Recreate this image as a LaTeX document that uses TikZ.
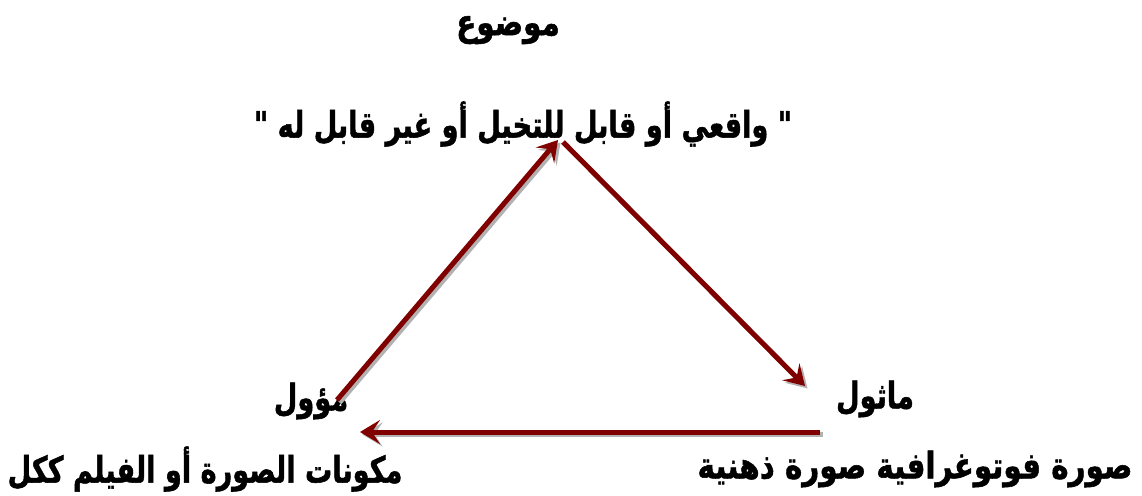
\documentclass[tikz,border=0pt]{standalone}
\usepackage{fontspec}
\usepackage{graphicx}
\usetikzlibrary{arrows.meta}
\TeXXeTstate=1
\newfontfamily\arabicfont[Script=Arabic, BoldFeatures={FakeBold=1.5}]{DejaVu Sans}
\definecolor{arrowred}{RGB}{128,0,0}
\newcommand{\artxt}[1]{\scalebox{0.97}[1.3]{\beginR #1\endR}}
\tikzset{
  lbl/.style={font=\arabicfont\bfseries\fontsize{28}{32}\selectfont, inner sep=0pt, anchor=center},
  conn/.style={line width=5pt, color=arrowred, -{Stealth[length=20pt,width=24pt,inset=8pt]}},
  shadowconn/.style={conn, color=black!30, transform canvas={shift={(2.5pt,-2.5pt)}}}
}
\begin{document}
\begin{tikzpicture}[x=1pt,y=-1pt]
\useasboundingbox[fill=white] (0,0) rectangle (1142,495);
\node[lbl] (topic) at (508,30) {\scalebox{1.05}[1.3]{\beginR موضوع\endR}};
\node[lbl] (real) at (523,124) {\artxt{" واقعي أو قابل للتخيل أو غير قابل له "}};
\node[lbl] (interp) at (311,401) {\artxt{مؤول}};
\node[lbl] (repr) at (875,399) {\artxt{ماثول}};
\node[lbl] (comps) at (205,469) {\artxt{مكونات الصورة أو الفيلم ككل}};
\node[lbl] (photo) at (915,469) {\scalebox{1.05}[1.3]{\beginR صورة فوتوغرافية صورة ذهنية\endR}};
\coordinate (a1) at (337,400);
\coordinate (a2) at (558,140);
\coordinate (b1) at (563,142);
\coordinate (b2) at (805,386);
\coordinate (c1) at (820,432);
\coordinate (c2) at (360,432);
\draw[shadowconn] (a1) -- (a2);
\draw[shadowconn] (b1) -- (b2);
\draw[shadowconn] (c1) -- (c2);
\draw[conn] (a1) -- (a2);
\draw[conn] (b1) -- (b2);
\draw[conn] (c1) -- (c2);
\end{tikzpicture}
\end{document}
